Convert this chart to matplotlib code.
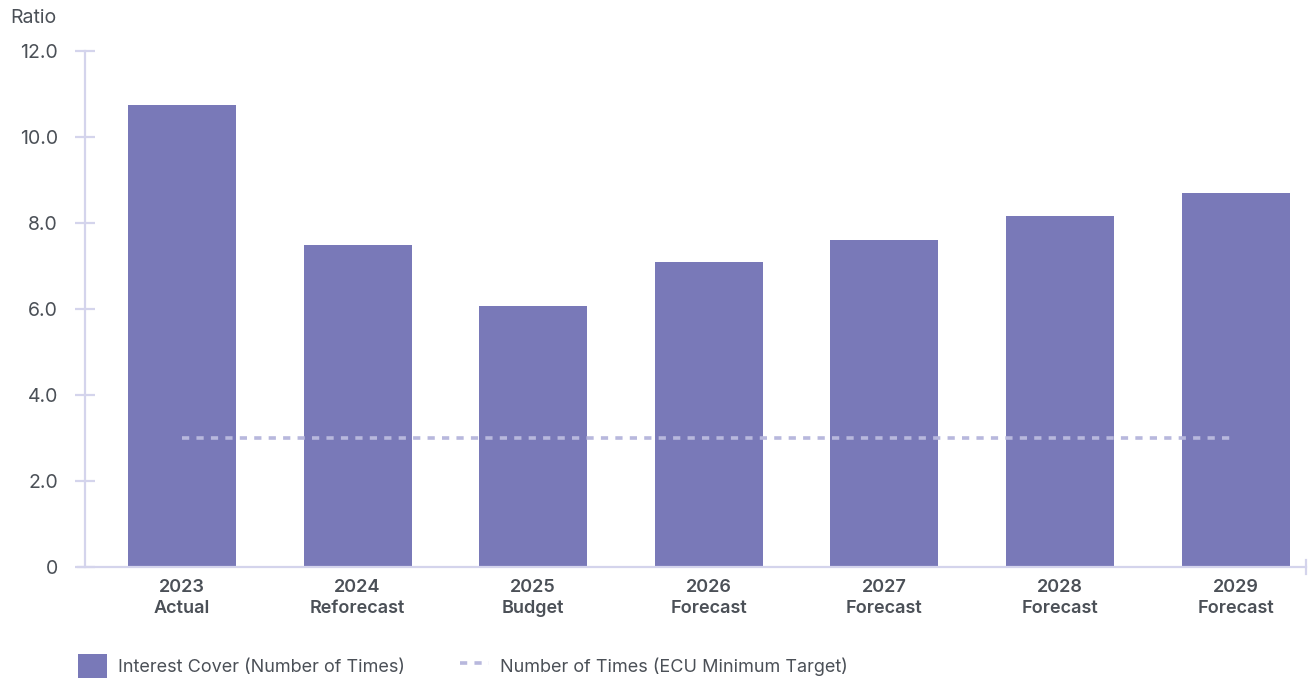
import matplotlib
matplotlib.use("Agg")
import matplotlib.pyplot as plt
from matplotlib.patches import Patch
from matplotlib.lines import Line2D

# ── Data ──────────────────────────────────────────────────────────────────────
YEARS   = ["2023", "2024", "2025", "2026", "2027", "2028", "2029"]
PHASES  = ["Actual", "Reforecast", "Budget", "Forecast", "Forecast", "Forecast", "Forecast"]
INTEREST_COVER = [10.74, 7.49, 6.07, 7.09, 7.60, 8.16, 8.70]
MIN_TARGET     = [3.0, 3.0, 3.0, 3.0, 3.0, 3.0, 3.0]
Y_TICKS  = [0, 2, 4, 6, 8, 10, 12]
Y_LABELS = ["0", "2.0", "4.0", "6.0", "8.0", "10.0", "12.0"]

BAR_COLOR  = "#7979b8"
LINE_COLOR = "#b8b8dd"
AXIS_COLOR = "#d4d4ec"
TEXT_COLOR = "#4b5057"

plt.rcParams["font.family"] = ["Inter", "DejaVu Sans"]

fig = plt.figure(figsize=(13.13, 6.8), dpi=100)
ax = fig.add_axes([85 / 1313, 1 - 567 / 680, (1306 - 85) / 1313, (567 - 51) / 680])

x = list(range(len(YEARS)))
ax.bar(x, INTEREST_COVER, width=0.615, color=BAR_COLOR, zorder=2)
ax.plot(x, MIN_TARGET, color=LINE_COLOR, lw=2.6, linestyle=(0, (2, 2)), zorder=3)

ax.set_xlim(-0.552, 6.40)
ax.set_ylim(0, 12)

for side in ("top", "right"):
    ax.spines[side].set_visible(False)
for side in ("left", "bottom"):
    ax.spines[side].set_color(AXIS_COLOR)
    ax.spines[side].set_linewidth(1.6)
ax.spines["bottom"].set_bounds(-0.592, 6.40)
ax.spines["left"].set_bounds(0, 12)

ax.set_yticks(Y_TICKS)
ax.set_yticklabels(Y_LABELS)
ax.tick_params(axis="y", direction="inout", length=15, width=1.6, color=AXIS_COLOR,
               labelsize=14, labelcolor=TEXT_COLOR, pad=12)
ax.set_xticks(x)
ax.set_xticklabels([f"{y}\n{p}" for y, p in zip(YEARS, PHASES)],
                   fontsize=13, fontweight="semibold", linespacing=1.3)
ax.tick_params(axis="x", length=0, labelcolor=TEXT_COLOR, pad=9)

# right-hand end tick on the x axis
ax.plot([6.40, 6.40], [-0.17, 0.17], color=AXIS_COLOR, lw=1.6, clip_on=False)

fig.text(10 / 1313, 1 - 18 / 680, "Ratio", fontsize=14, color=TEXT_COLOR,
         ha="left", va="center")

handles = [
    Patch(facecolor=BAR_COLOR, edgecolor="none", label="Interest Cover (Number of Times)"),
    Line2D([0], [0], color=LINE_COLOR, lw=2.6, linestyle=(0, (2, 2)),
           label="Number of Times (ECU Minimum Target)"),
]
fig.legend(handles=handles, loc="center left", bbox_to_anchor=(62 / 1313, 1 - 666 / 680),
           ncol=2, frameon=False, fontsize=13, labelcolor=TEXT_COLOR,
           handlelength=1.6, handleheight=1.7, handletextpad=0.6, columnspacing=3.05)

fig.savefig("out.png", dpi=100)
